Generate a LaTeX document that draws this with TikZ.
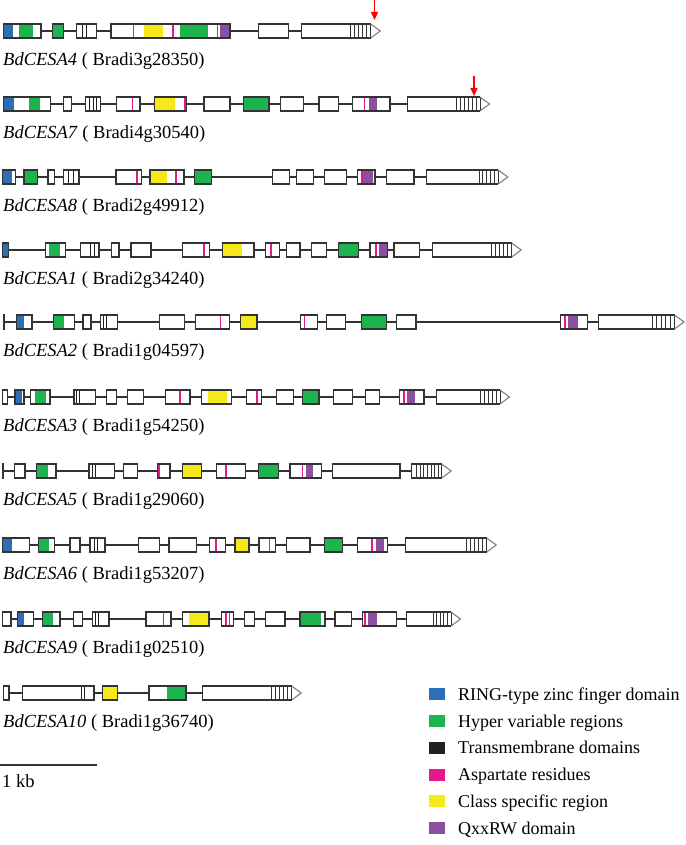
\documentclass[tikz,border=0pt]{standalone}
\usepackage{fontspec}
\setmainfont{Liberation Serif}
\usetikzlibrary{arrows.meta}
\definecolor{ringc}{HTML}{2D6EB5}
\definecolor{hvrc}{HTML}{1DB34F}
\definecolor{tmc}{HTML}{231F20}
\definecolor{aspc}{HTML}{E8168C}
\definecolor{cscc}{HTML}{F5E91C}
\definecolor{qxxc}{HTML}{8C4F9F}
\definecolor{outl}{HTML}{333333}
\tikzset{
  exonline/.style={draw=outl, line width=1.2pt},
  intronline/.style={draw=outl, line width=1.2pt},
  tmline/.style={draw=tmc, line width=0.9pt},
  stripe/.style={draw=outl, line width=0.9pt},
  tipline/.style={draw=black!50, line width=1.1pt},
  glabel/.style={anchor=base west, inner sep=0pt, font=\fontsize{18.5}{20}\selectfont},
  legtext/.style={anchor=base west, inner sep=0pt, font=\fontsize{18}{20}\selectfont},
  redarrow/.style={draw=red, line width=1.2pt, -{Triangle[length=8pt,width=7pt]}},
}
\newcommand\gexon[3]{\fill[white] (#1,-7) rectangle (#2,7); #3 \draw[exonline] (#1,-7) rectangle (#2,7);}
\newcommand\gdom[3]{\fill[#1] (#2,-7) rectangle (#3,7);}
\newcommand\gasp[1]{\fill[aspc] ({#1-0.8},-7) rectangle ({#1+0.8},7);}
\newcommand\gtm[1]{\draw[tmline] (#1,-7) -- (#1,7);}
\newcommand\glast[4]{%
  \fill[white] (#1,-7) rectangle (#3,7);
  \foreach \k in {0,...,#4} {\draw[stripe] ({#2+\k*(#3-#2)/#4},-7) -- ({#2+\k*(#3-#2)/#4},7);}
  \draw[exonline] (#3,-7) -- (#1,-7) -- (#1,7) -- (#3,7);
  \draw[tipline] (#3,-7) -- ({#3+9.5},0) -- (#3,7);
}
\newcommand\gintron[2]{\draw[intronline] (#1,0) -- (#2,0);}
\begin{document}
\begin{tikzpicture}[x=1pt,y=-1pt]
\useasboundingbox (0,0) rectangle (685,845);
\fill[white] (0,0) rectangle (685,845);

% CESA4
\begin{scope}[shift={(0,31)}]
\gintron{3.3}{370.7}
\gexon{3.3}{41}{\gdom{ringc}{3.3}{12.7}\gdom{hvrc}{19.3}{32.7}}
\gexon{52.7}{63.3}{\gdom{hvrc}{52.7}{63.3}}
\gexon{76.7}{96.7}{\gtm{82.7}\gtm{86.7}}
\gexon{111}{230}{\gasp{133.3}\gdom{cscc}{144}{162.7}\gasp{172.7}\gdom{hvrc}{180}{208.3}\gasp{217.3}\gdom{qxxc}{220}{230}}
\gexon{258.3}{288.3}{}
\glast{301.7}{350}{370.7}{5}
\end{scope}
\coordinate (a4s) at (374.5,0);
\coordinate (a4e) at (374.5,20);
\draw[redarrow] (a4s) -- (a4e);
\node[glabel] (l4) at (3,65.5) {\textit{BdCESA4} ( Bradi3g28350)};

% CESA7
\begin{scope}[shift={(0,104)}]
\gintron{3.3}{480}
\gexon{3.3}{50.7}{\gdom{ringc}{3.3}{14}\gdom{hvrc}{29.3}{40}}
\gexon{63.3}{71.7}{}
\gexon{85.7}{100.7}{\gtm{89.3}\gtm{93.3}\gtm{96.7}}
\gexon{116.7}{140}{\gasp{132.3}}
\gexon{154.3}{186.7}{\gdom{cscc}{154.3}{175}\gdom{aspc}{183.5}{186.7}}
\gexon{204}{230}{}
\gexon{243.3}{269}{\gdom{hvrc}{243.3}{269}}
\gexon{280.7}{303.3}{}
\gexon{319}{338.3}{}
\gexon{352.7}{390}{\gasp{364.3}\gdom{qxxc}{369}{377.3}}
\glast{407.3}{456.7}{480}{6}
\end{scope}
\coordinate (a7s) at (474,76);
\coordinate (a7e) at (474,96);
\draw[redarrow] (a7s) -- (a7e);
\node[glabel] (l7) at (3,138.5) {\textit{BdCESA7} ( Bradi4g30540)};

% CESA8
\begin{scope}[shift={(0,177)}]
\gintron{2.7}{498.3}
\gexon{2.7}{15.7}{\gdom{ringc}{2.7}{12.3}}
\gexon{24}{37.3}{\gdom{hvrc}{24}{37.3}}
\gexon{48}{54.3}{}
\gexon{63.3}{79}{\gtm{68.3}\gtm{73.3}}
\gexon{116}{141.7}{\gasp{136.7}}
\gexon{150}{184}{\gdom{cscc}{150}{166.7}\gasp{176}}
\gexon{194.3}{211.7}{\gdom{hvrc}{194.3}{211.7}}
\gexon{272.7}{289.3}{}
\gexon{296.7}{313.3}{}
\gexon{324.3}{346.7}{}
\gexon{357.7}{375}{\gasp{361.7}\gdom{qxxc}{363.3}{372.7}}
\gexon{386.7}{414}{}
\glast{426.7}{479}{498.3}{5}
\end{scope}
\node[glabel] (l8) at (3,211.5) {\textit{BdCESA8} ( Bradi2g49912)};

% CESA1
\begin{scope}[shift={(0,250)}]
\gintron{2.7}{511.7}
\gexon{2.7}{8.3}{\gdom{ringc}{2.7}{8.3}}
\gexon{45.7}{65.7}{\gdom{hvrc}{49}{60}}
\gexon{80.7}{99}{\gtm{90.7}\gtm{94.3}}
\gexon{111.7}{119}{}
\gexon{131}{151}{}
\gexon{182.7}{209.3}{\gasp{204}}
\gexon{222.7}{254}{\gdom{cscc}{222.7}{242.3}}
\gexon{265.7}{279.3}{\gasp{270.7}}
\gexon{286.7}{300}{}
\gexon{311.7}{326.7}{}
\gexon{338.3}{358.3}{\gdom{hvrc}{338.3}{358.3}}
\gexon{370}{387.3}{\gasp{375.7}\gdom{qxxc}{379.3}{386.7}}
\gexon{394}{419.3}{}
\glast{432.7}{491.7}{511.7}{5}
\end{scope}
\node[glabel] (l1) at (3,284.5) {\textit{BdCESA1} ( Bradi2g34240)};

% CESA2
\begin{scope}[shift={(0,322)}]
\gintron{3.5}{675}
\gexon{3.5}{4.3}{}
\gexon{16.6}{31.9}{\gdom{ringc}{16.6}{24}}
\gexon{53.3}{74.3}{\gdom{hvrc}{53.3}{64.2}}
\gexon{83}{90.9}{}
\gexon{100.5}{117.1}{\gtm{103.1}\gtm{106.2}}
\gexon{159.5}{184.4}{}
\gexon{195.3}{229.4}{\gasp{220.6}}
\gexon{240.3}{256.9}{\gdom{cscc}{240.3}{256.9}}
\gexon{300.6}{317.6}{\gasp{304.5}}
\gexon{326.3}{345.1}{}
\gexon{361.7}{386.6}{\gdom{hvrc}{361.7}{386.6}}
\gexon{396.2}{415.9}{}
\gexon{560.1}{587.6}{\gasp{564.9}\gdom{qxxc}{567.9}{577.5}}
\glast{598.5}{652.3}{674.5}{5}
\end{scope}
\node[glabel] (l2) at (3,356.5) {\textit{BdCESA2} ( Bradi1g04597)};

% CESA3
\begin{scope}[shift={(0,397)}]
\gintron{2.7}{500}
\gexon{2.7}{7.3}{}
\gexon{15}{24}{\gdom{ringc}{15}{21.7}}
\gexon{30.7}{50}{\gdom{hvrc}{35}{45.7}}
\gexon{74}{95.7}{\gtm{76.7}\gtm{79.3}}
\gexon{106.7}{116.7}{}
\gexon{127.7}{143.3}{}
\gexon{165.7}{190}{\gasp{180}}
\gexon{201.7}{231.7}{\gdom{cscc}{207.7}{226.7}}
\gexon{246.7}{261.7}{\gasp{256.7}}
\gexon{276.7}{293.3}{}
\gexon{302.3}{319}{\gdom{hvrc}{302.3}{319}}
\gexon{333.3}{352.7}{}
\gexon{365.7}{379.3}{}
\gexon{399.3}{424}{\gasp{404}\gdom{qxxc}{406.7}{415}}
\glast{436.7}{480}{500}{5}
\end{scope}
\node[glabel] (l3) at (3,431.5) {\textit{BdCESA3} ( Bradi1g54250)};

% CESA5
\begin{scope}[shift={(0,471)}]
\gintron{2.7}{441.7}
\gexon{2.7}{3.5}{}
\gexon{14.3}{25}{}
\gexon{36.7}{56}{\gdom{hvrc}{36.7}{48.3}}
\gexon{89}{114.3}{\gtm{92.3}\gtm{95.7}}
\gexon{123.3}{137.3}{}
\gexon{157.7}{170}{\gdom{aspc}{157.7}{160}}
\gexon{182.3}{201.7}{\gdom{cscc}{182.3}{201.7}}
\gexon{216.7}{245.7}{\gasp{225.7}}
\gexon{258.3}{278.3}{\gdom{hvrc}{258.3}{278.3}}
\gexon{290}{321.7}{\gasp{302.3}\gdom{qxxc}{306}{313.3}}
\gexon{332.3}{400}{}
\glast{411.7}{416.7}{441.7}{7}
\end{scope}
\node[glabel] (l5) at (3,505.5) {\textit{BdCESA5} ( Bradi1g29060)};

% CESA6
\begin{scope}[shift={(0,545)}]
\gintron{2.7}{486.7}
\gexon{2.7}{29.3}{\gdom{ringc}{2.7}{11.7}}
\gexon{38.3}{54.3}{\gdom{hvrc}{38.3}{49.3}}
\gexon{70}{80}{}
\gexon{90}{105}{\gtm{94}\gtm{97.3}}
\gexon{138.3}{159.3}{}
\gexon{169}{196.7}{}
\gexon{209.3}{225.7}{\gasp{215.7}}
\gexon{235}{249}{\gdom{cscc}{235}{249}}
\gexon{259}{275.7}{\gasp{269.3}}
\gexon{286.7}{310}{}
\gexon{324.3}{342.7}{\gdom{hvrc}{324.3}{342.7}}
\gexon{357.7}{387.3}{\gasp{371.7}\gdom{qxxc}{376}{384.3}}
\glast{405.7}{466.7}{486.7}{5}
\end{scope}
\node[glabel] (l6) at (3,579.5) {\textit{BdCESA6} ( Bradi1g53207)};

% CESA9
\begin{scope}[shift={(0,619)}]
\gintron{2.7}{451}
\gexon{2.7}{11}{}
\gexon{17.3}{33.3}{\gdom{ringc}{17.3}{24}}
\gexon{42.3}{60}{\gdom{hvrc}{42.3}{53.3}}
\gexon{73.3}{82.7}{}
\gexon{92.3}{109}{\gtm{95.7}\gtm{98.3}}
\gexon{146}{171}{\gasp{163.3}}
\gexon{182.3}{209}{\gdom{cscc}{189}{209}}
\gexon{221.7}{233.3}{\gasp{225.7}\gasp{229.3}}
\gexon{244.3}{254.3}{}
\gexon{265.7}{285}{}
\gexon{300}{325}{\gdom{hvrc}{300}{320.7}}
\gexon{335}{351.7}{}
\gexon{362.3}{396.7}{\gasp{365}\gdom{qxxc}{368.3}{376.7}}
\glast{406.7}{433.3}{451}{5}
\end{scope}
\node[glabel] (l9) at (3,653.5) {\textit{BdCESA9} ( Bradi1g02510)};

% CESA10
\begin{scope}[shift={(0,693)}]
\gintron{3.3}{291.7}
\gexon{3.3}{9}{}
\gexon{22.7}{94}{\gtm{81.7}\gtm{84.3}}
\gexon{102.3}{117.3}{\gdom{cscc}{102.3}{117.3}}
\gexon{149}{186}{\gdom{hvrc}{166.7}{186}}
\glast{202.7}{271.7}{291.7}{5}
\end{scope}
\node[glabel] (l10) at (3,727.5) {\textit{BdCESA10} ( Bradi1g36740)};

% scale bar
\coordinate (sb1) at (0,765);
\coordinate (sb2) at (97,765);
\draw[draw=outl, line width=1.4pt] (sb1) -- (sb2);
\node[glabel] (kb) at (2,787) {1 kb};

% legend
\foreach \i/\c/\t in {0/ringc/RING-type zinc finger domain,1/hvrc/Hyper variable regions,2/tmc/Transmembrane domains,3/aspc/Aspartate residues,4/cscc/Class specific region,5/qxxc/QxxRW domain}{
  \fill[\c] (429,{694.2+26.8*\i-6}) rectangle (445,{694.2+26.8*\i+6});
  \node[legtext] (lg\i) at (458,{694.2+26.8*\i+6}) {\t};
}
\end{tikzpicture}
\end{document}
